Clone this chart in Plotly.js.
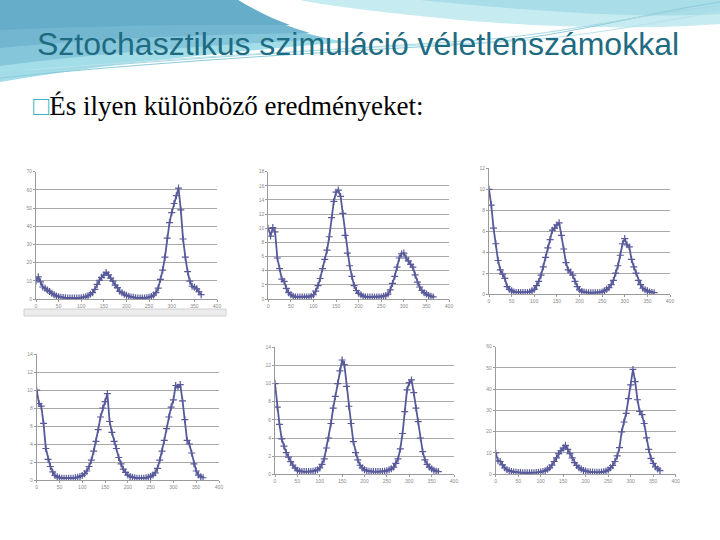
<!DOCTYPE html>
<html>
<head>
<meta charset="utf-8">
<script src="https://cdn.plot.ly/plotly-3.0.1.min.js"></script>
<style>html,body{margin:0;padding:0;background:#fff;}#chart{width:720px;height:540px;}</style>
</head>
<body>
<div id="chart"></div>
<script>
// ---- data (value every 5 days) ----
const days = [
  0,5,10,15,20,25,30,35,40,45,
  50,55,60,65,70,75,80,85,90,95,
  100,105,110,115,120,125,130,135,140,145,
  150,155,160,165,170,175,180,185,190,195,
  200,205,210,215,220,225,230,235,240,245,
  250,255,260,265,270,275,280,285,290,295,
  300,305,310,315,320,325,330,335,340,345,
  350,355,360,365
];
const run1 = [
  10,12.2,9.4,6.6,5.9,4.9,4.1,3.1,2.3,1.7,
  1.3,1.0,0.8,0.7,0.6,0.5,0.5,0.5,0.5,0.6,
  0.7,0.9,1.2,1.8,2.6,3.5,5.3,8.0,10.3,11.9,
  13.2,14.6,13.3,11.5,9.8,7.6,6.2,4.2,3.4,2.6,
  2.0,1.5,1.1,0.9,0.7,0.6,0.6,0.6,0.6,0.7,
  0.9,1.4,2.2,3.5,6.0,10.8,15.9,23.0,33.5,42.0,
  47.5,52.5,56.8,61.0,49.0,33.0,23.0,15.0,9.8,7.0,
  6.5,5.6,4.0,2.4
];
const run2 = [
  10.0,8.9,10.1,9.5,5.8,4.3,2.8,2.5,1.5,0.9,
  0.6,0.4,0.3,0.3,0.3,0.3,0.3,0.3,0.3,0.4,
  0.6,1.1,1.9,2.9,4.3,5.6,6.9,8.8,11.5,13.8,
  15.1,15.4,14.5,12.1,9.0,6.5,4.7,3.2,1.9,1.2,
  0.8,0.6,0.4,0.3,0.3,0.3,0.3,0.3,0.3,0.3,
  0.3,0.4,0.5,0.7,1.3,2.2,3.2,4.5,5.8,6.4,
  6.5,5.8,5.4,4.9,4.5,3.4,2.4,1.7,1.2,0.9,
  0.7,0.5,0.4,0.3
];
const run3 = [
  10.0,8.5,6.3,4.8,3.2,2.3,1.9,1.5,0.7,0.45,
  0.3,0.2,0.15,0.15,0.15,0.15,0.15,0.15,0.2,0.3,
  0.45,0.8,1.2,1.8,2.6,3.5,4.4,5.2,6.1,6.3,
  6.6,6.8,5.6,4.3,3.0,2.3,2.1,1.8,1.2,0.7,
  0.4,0.25,0.2,0.15,0.13,0.13,0.13,0.13,0.13,0.15,
  0.2,0.3,0.45,0.6,0.9,1.3,2.0,2.7,3.7,4.8,
  5.3,4.7,4.5,3.3,2.6,2.0,1.3,0.9,0.55,0.4,
  0.3,0.2,0.15,0.13
];
const run4 = [
  10.0,8.5,8.2,6.3,3.5,2.3,1.5,0.9,0.5,0.35,
  0.25,0.2,0.2,0.2,0.2,0.2,0.2,0.25,0.3,0.4,
  0.5,0.7,1.0,1.5,2.2,3.2,4.3,5.6,7.0,8.0,
  8.7,9.6,6.5,5.3,4.3,3.5,2.5,1.8,1.2,0.85,
  0.55,0.4,0.3,0.25,0.2,0.2,0.2,0.2,0.25,0.3,
  0.4,0.55,0.8,1.3,2.2,3.2,4.4,5.7,7.0,8.1,
  8.9,10.5,10.3,10.6,8.8,6.7,4.4,4.0,3.0,1.8,
  1.0,0.55,0.35,0.25
];
const run5 = [
  10.0,7.4,5.5,3.9,3.1,2.4,1.9,1.4,1.0,0.7,
  0.45,0.35,0.3,0.3,0.3,0.3,0.3,0.35,0.4,0.5,
  0.7,1.1,1.7,2.9,4.0,5.6,7.3,8.6,10.0,11.4,
  12.6,12.1,9.7,7.5,5.6,3.6,2.4,1.6,1.0,0.7,
  0.5,0.4,0.35,0.3,0.3,0.3,0.3,0.3,0.3,0.35,
  0.4,0.5,0.6,0.8,1.2,1.7,2.8,4.5,6.9,9.3,
  10.1,10.4,9.0,7.3,5.8,4.0,2.5,1.6,1.1,0.8,
  0.6,0.45,0.35,0.3
];
const run6 = [
  10.0,6.2,5.9,4.3,2.9,2.0,1.5,1.2,1.0,0.8,
  0.7,0.7,0.6,0.6,0.6,0.6,0.6,0.6,0.7,0.8,
  1.0,1.2,1.5,2.2,2.9,4.2,5.9,7.6,9.6,11.0,
  12.2,13.5,11.6,9.6,7.6,5.4,4.0,3.0,2.3,1.7,
  1.4,1.1,1.0,0.9,0.8,0.8,0.8,0.9,1.1,1.4,
  1.9,2.9,4.0,5.9,8.5,12.4,19.9,24.5,28.6,35.5,
  42.0,49.3,43.5,35.0,29.5,28.0,23.8,17.0,11.6,7.4,
  5.0,3.4,2.4,1.6
];
const runs = [run1, run2, run3, run4, run5, run6];
const yMax = [70, 18, 12, 14, 14, 60];
const yStep = [10, 2, 2, 2, 2, 10];
const xTicks = [0, 50, 100, 150, 200, 250, 300, 350, 400];

// ---- layout of the six small charts (pixel boxes) ----
const boxes = [
  {x0: 36, x1: 217, y0: 171.7, y1: 299},
  {x0: 268.3, x1: 449, y0: 171.7, y1: 299},
  {x0: 489, x1: 670, y0: 168.4, y1: 294},
  {x0: 36.7, x1: 219, y0: 354, y1: 480},
  {x0: 275, x1: 454, y0: 347.3, y1: 474.3},
  {x0: 495.7, x1: 675.7, y0: 346.7, y1: 474}
];
const W = 720, H = 540;
const lineColor = '#57599a';

const traces = [];
const layout = {
  width: W, height: H,
  margin: {l: 0, r: 0, t: 0, b: 0},
  paper_bgcolor: '#ffffff',
  plot_bgcolor: 'rgba(0,0,0,0)',
  showlegend: false,
  font: {family: 'Liberation Sans, Arial, sans-serif', color: '#8a8a8a', size: 5},
  shapes: [],
  annotations: []
};

runs.forEach((r, i) => {
  const n = i + 1;
  const xa = 'x' + (n === 1 ? '' : n), ya = 'y' + (n === 1 ? '' : n);
  traces.push({
    type: 'scatter', mode: 'lines+markers',
    x: days, y: r, xaxis: xa, yaxis: ya,
    line: {color: lineColor, width: 1.8},
    marker: {symbol: 'cross-thin', size: 5, color: lineColor, line: {color: lineColor, width: 1.2}},
    hoverinfo: 'skip'
  });
  const b = boxes[i];
  const tv = [];
  for (let v = 0; v <= yMax[i]; v += yStep[i]) tv.push(v);
  layout['xaxis' + (n === 1 ? '' : n)] = {
    domain: [b.x0 / W, b.x1 / W], anchor: ya,
    range: [0, 400], tickvals: xTicks, ticks: 'outside', ticklen: 2, tickcolor: '#9a9a9a',
    showgrid: false, zeroline: false, showline: true, linecolor: '#9a9a9a', linewidth: 1,
    tickfont: {size: 5, color: '#8a8a8a'}, fixedrange: true
  };
  layout['yaxis' + (n === 1 ? '' : n)] = {
    domain: [1 - b.y1 / H, 1 - b.y0 / H], anchor: xa,
    range: [0, yMax[i]], tickvals: tv, ticks: 'outside', ticklen: 2, tickcolor: '#9a9a9a',
    showgrid: true, gridcolor: '#a9a9a9', gridwidth: 1,
    zeroline: false, showline: true, linecolor: '#9a9a9a', linewidth: 1,
    tickfont: {size: 5, color: '#8a8a8a'}, fixedrange: true
  };
});

// overlay axis for slide decoration, in pixel units
layout.xaxis7 = {domain: [0, 1], range: [0, W], visible: false, fixedrange: true, anchor: 'y7'};
layout.yaxis7 = {domain: [0, 1], range: [H, 0], visible: false, fixedrange: true, anchor: 'x7'};
traces.push({type: 'scatter', x: [0], y: [0], xaxis: 'x7', yaxis: 'y7', mode: 'markers',
  marker: {opacity: 0}, hoverinfo: 'skip'});

const deco = (path, fill, opacity) => ({type: 'path', xref: 'x7', yref: 'y7', path: path,
  fillcolor: fill, opacity: opacity, line: {width: 0}, layer: 'below'});
const stroke = (path, color, w) => ({type: 'path', xref: 'x7', yref: 'y7', path: path,
  line: {color: color, width: w}, layer: 'below'});

layout.shapes.push(
  deco('M0,0 L238,0 C262,22 300,36 350,42 C250,50 120,62 0,82 Z', '#a2dde8', 1),
  deco('M0,0 L238,0 C260,18 292,31 330,39 C230,44 110,52 0,66 Z', '#86c6db', 1),
  deco('M0,0 L238,0 C258,14 282,25 310,33 C220,34 100,38 0,48 Z', '#73b6cf', 1),
  deco('M0,0 L238,0 C255,10 270,18 290,25 C200,24 90,26 0,30 Z', '#66adc9', 1),
  deco('M300,0 L720,0 L720,24 C640,30 540,28 440,18 C380,12 330,6 300,0 Z', '#c6ebf1', 1),
  deco('M420,0 L720,0 L720,14 C650,18 560,14 420,0 Z', '#a9dde8', 1),
  stroke('M0,78 C150,62 330,52 470,44 C560,38 640,14 720,2', '#8ccbdc', 1),
  stroke('M0,74 C160,60 340,49 480,40 C570,33 650,12 720,6', '#a6d8e4', 1),
  stroke('M30,70 C200,56 360,47 500,42 C600,36 660,20 720,12', '#b8e2ea', 1),
  // spreadsheet scroll strip under the first chart
  {type: 'rect', xref: 'x7', yref: 'y7', x0: 24, x1: 226, y0: 309, y1: 316,
   fillcolor: '#ececec', line: {color: '#d0d0d0', width: 1}, layer: 'below'}
);

layout.annotations.push(
  {xref: 'paper', yref: 'paper', x: 35 / W, y: 1 - 44 / H, xanchor: 'left', yanchor: 'middle',
   text: 'Sztochasztikus szimuláció véletlenszámokkal', showarrow: false,
   font: {family: 'Liberation Sans, Arial, sans-serif', size: 32, color: '#1e6b82'}},
  {xref: 'paper', yref: 'paper', x: 31 / W, y: 1 - 106 / H, xanchor: 'left', yanchor: 'middle',
   text: '<span style="color:#3fb3c6">□</span>És ilyen különböző eredményeket:', showarrow: false,
   font: {family: 'Liberation Serif, Times New Roman, serif', size: 27, color: '#000000'}}
);

Plotly.newPlot('chart', traces, layout, {staticPlot: true, displayModeBar: false});
</script>
</body>
</html>
